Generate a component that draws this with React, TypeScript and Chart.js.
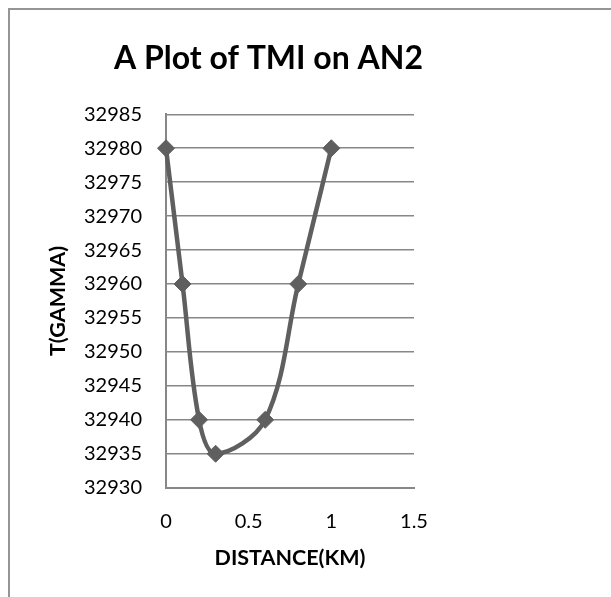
import React, { useEffect, useRef } from 'react';
import { Chart, registerables } from 'chart.js';

Chart.register(...registerables);

const chartTitle = 'A Plot of TMI on AN2';
const xAxisTitle = 'DISTANCE(KM)';
const yAxisTitle = 'T(GAMMA)';

const distanceKm = [0, 0.1, 0.2, 0.3, 0.6, 0.8, 1];
const tmiGamma = [32980, 32960, 32940, 32935, 32940, 32960, 32980];

const xTickValues = [0, 0.5, 1, 1.5];
const yTickValues = [32930, 32935, 32940, 32945, 32950, 32955, 32960, 32965, 32970, 32975, 32980, 32985];

const FONT = 'Lato, "Open Sans", "DejaVu Sans", sans-serif';
const LINE_COLOR = '#5f5f5f';
const GRID_COLOR = '#878787';

export default function App() {
  const canvasRef = useRef<HTMLCanvasElement | null>(null);

  useEffect(() => {
    const canvas = canvasRef.current;
    if (!canvas) return;
    const chart = new Chart(canvas, {
      type: 'line',
      data: {
        datasets: [
          {
            label: 'TMI',
            data: distanceKm.map((x, i) => ({ x, y: tmiGamma[i] })),
            borderColor: LINE_COLOR,
            backgroundColor: LINE_COLOR,
            borderWidth: 4.5,
            tension: 0.35,
            pointStyle: 'rectRot',
            pointRadius: 8.5,
            pointBorderWidth: 1,
            pointBackgroundColor: LINE_COLOR,
            pointBorderColor: LINE_COLOR,
            clip: false,
            fill: false,
          } as any,
        ],
      },
      options: {
        responsive: false,
        animation: false,
        devicePixelRatio: 1,
        layout: { padding: 0 },
        plugins: {
          legend: { display: false },
          tooltip: { enabled: false },
          title: {
            display: true,
            text: chartTitle,
            color: '#000',
            font: { family: FONT, size: 32, weight: 'bold' },
            padding: { top: 29.8, bottom: 36.1 },
          },
        },
        scales: {
          x: {
            type: 'linear',
            position: 'bottom',
            min: xTickValues[0],
            max: xTickValues[xTickValues.length - 1],
            afterBuildTicks: (scale: any) => {
              scale.ticks = xTickValues.map((v) => ({ value: v }));
            },
            ticks: {
              color: '#000',
              font: { family: FONT, size: 20 },
              padding: 22,
              maxRotation: 0,
              autoSkip: false,
              callback: (v: any) => String(v),
            },
            grid: { display: false, drawTicks: false },
            border: { display: true, color: GRID_COLOR, width: 2 },
            title: {
              display: true,
              text: xAxisTitle,
              color: '#000',
              font: { family: FONT, size: 21.5, weight: 'bold' },
              padding: { top: 0, bottom: 17.8 },
            },
            afterFit: (scale: any) => {
              scale.height = 101.3;
            },
          },
          y: {
            type: 'linear',
            position: 'left',
            min: yTickValues[0],
            max: yTickValues[yTickValues.length - 1],
            afterBuildTicks: (scale: any) => {
              scale.ticks = yTickValues.map((v) => ({ value: v }));
            },
            ticks: {
              color: '#000',
              font: { family: FONT, size: 20 },
              padding: 24,
              autoSkip: false,
              callback: (v: any) => String(v),
            },
            grid: { display: true, drawTicks: false, color: GRID_COLOR, lineWidth: 1.5 },
            border: { display: true, color: GRID_COLOR, width: 2 },
            title: {
              display: true,
              text: yAxisTitle,
              color: '#000',
              font: { family: FONT, size: 21.5, weight: 'bold' },
              padding: { top: 35, bottom: 0 },
            },
            afterFit: (scale: any) => {
              scale.width = 156;
            },
          },
          ySpacer: {
            type: 'linear',
            position: 'right',
            display: true,
            ticks: { display: false },
            grid: { display: false, drawTicks: false },
            border: { display: false },
            afterFit: (scale: any) => {
              scale.width = 113;
            },
          },
        },
      } as any,
    });
    return () => {
      chart.destroy();
    };
  }, []);

  return (
    <div
      style={{
        position: 'absolute',
        left: 8,
        top: 8,
        right: 0,
        bottom: 0,
        borderTop: '2px solid #959595',
        borderLeft: '2px solid #959595',
        background: '#fff',
        overflow: 'hidden',
      }}
    >
      <canvas ref={canvasRef} width={517} height={579} style={{ display: 'block' }} />
    </div>
  );
}
